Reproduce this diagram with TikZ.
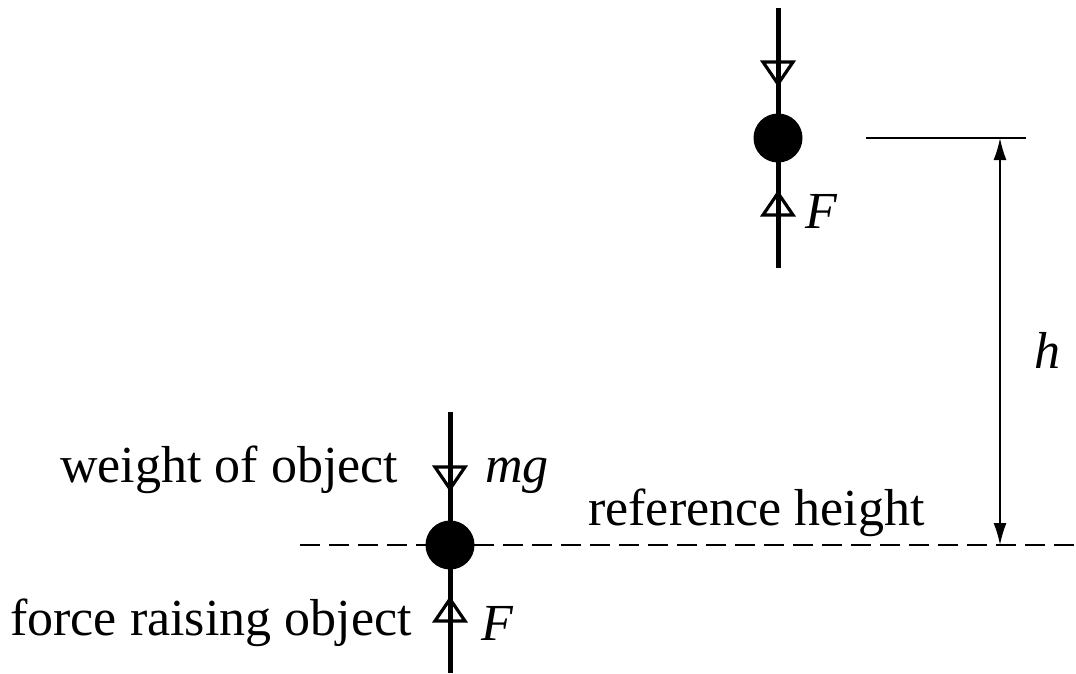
\documentclass[tikz,border=0pt]{standalone}
\usepackage{fontspec}
\setmainfont{Liberation Serif}
\usetikzlibrary{arrows.meta}
\begin{document}
\begin{tikzpicture}[x=1pt,y=-1pt,
  txt/.style={font=\fontsize{52}{60}\selectfont, inner sep=0pt, anchor=base west},
  rod/.style={line width=5pt},
  ball/.style={circle, fill=black, minimum size=49pt, inner sep=0pt},
  tri/.style={line width=3.2pt, line join=miter},
  thin/.style={line width=1.8pt},
  dim/.style={line width=1.8pt, {Latex[length=22pt,width=13pt]}-{Latex[length=22pt,width=13pt]}}]
\useasboundingbox (0,0) rectangle (1076,673);
% reference line
\coordinate (dl) at (300,545);
\coordinate (dr) at (1076,545);
\draw[line width=2pt, dash pattern=on 20pt off 9pt] (dl) -- (dr);
% top object
\coordinate (t1) at (778,8);
\coordinate (t2) at (778,268);
\node[ball] (topball) at (778,138) {};
\draw[rod] (t1) -- (t2);
\draw[tri] (763,62) -- (793,62) -- (778,84) -- cycle;
\draw[tri] (763,215) -- (793,215) -- (778,193) -- cycle;
\node[txt] (Ftop) at (805,228) {\textit{F}};
% bottom object
\coordinate (b1) at (450,412);
\coordinate (b2) at (450,673);
\node[ball] (botball) at (450,545) {};
\draw[rod] (b1) -- (b2);
\draw[tri] (435,467) -- (465,467) -- (450,489) -- cycle;
\draw[tri] (435,621) -- (465,621) -- (450,599) -- cycle;
\node[txt] (mg) at (485,482) {\textit{mg}};
\node[txt] (Fbot) at (481,640) {\textit{F}};
\node[txt] (weight) at (60,482) {weight of object};
\node[txt] (force) at (10,635) {force raising object};
\node[txt] (ref) at (588,525) {reference height};
% height dimension
\coordinate (hl) at (866,138);
\coordinate (hr) at (1026,138);
\draw[thin] (hl) -- (hr);
\coordinate (ht) at (1000,138);
\coordinate (hb) at (1000,545);
\draw[dim] (ht) -- (hb);
\node[txt] (h) at (1034,368) {\textit{h}};
\end{tikzpicture}
\end{document}
